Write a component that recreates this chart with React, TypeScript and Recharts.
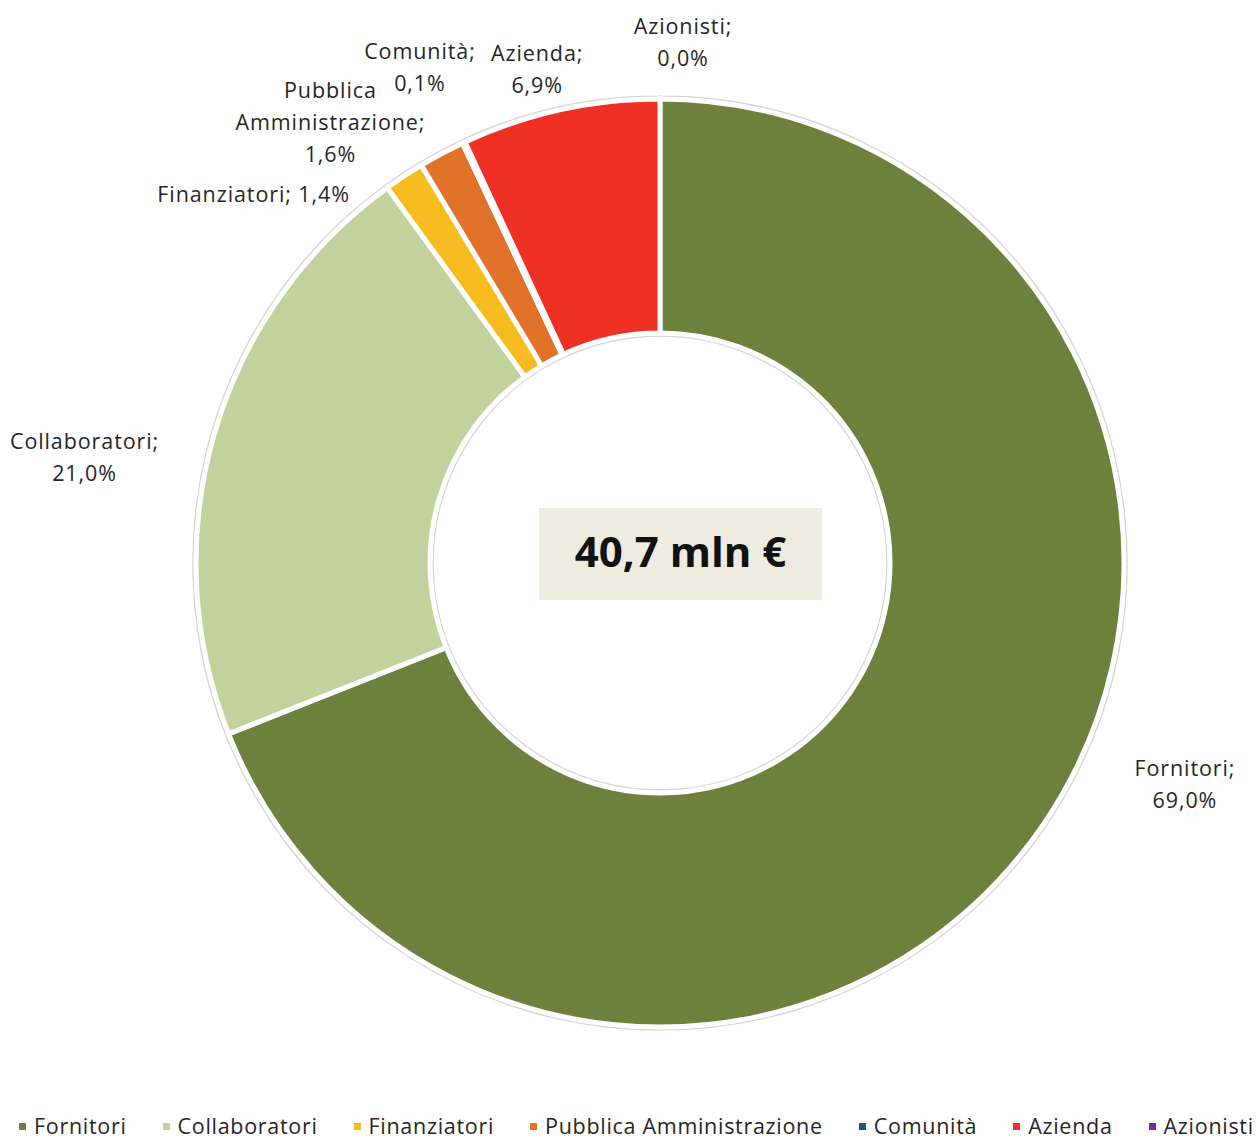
import { Legend, Pie, PieChart } from "recharts";

const categories = [
  "Fornitori",
  "Collaboratori",
  "Finanziatori",
  "Pubblica Amministrazione",
  "Comunità",
  "Azienda",
  "Azionisti"
];
const shares = [69.0, 21.0, 1.4, 1.6, 0.1, 6.9, 0.0];
const sliceColors = ["#6B813C", "#C1D29C", "#F6BC1F", "#E0722A", "#1F5C6B", "#EE3124", "#7030A0"];
const totalLabel = "40,7 mln €";

// label layout tweaks (Excel "best fit" positions), index-aligned with categories
const labelShift = [
  [118, -57],
  [-103, 30],
  [-135, 40],
  [-98, -8],
  [-32, -51],
  [-17, -15],
  [23, -30]
];
const labelMode = ["two", "two", "one", "three", "two", "two", "two"];

const data = categories.map((name, i) => ({ name, value: shares[i], fill: sliceColors[i] }));
const ringData = [{ name: "ring", value: 1 }];

const FONT = "'Open Sans', sans-serif";
const INK = "#262626";
const RAD = Math.PI / 180;

const fmt = (v: number) => v.toFixed(1).replace(".", ",") + "%";

const renderLabel = (props: any) => {
  const { cx, cy, midAngle, outerRadius, index, name, value } = props;
  const r = outerRadius + 28;
  const x = cx + r * Math.cos(-midAngle * RAD) + labelShift[index][0];
  const y = cy + r * Math.sin(-midAngle * RAD) + labelShift[index][1];
  let lines: string[];
  if (labelMode[index] === "one") lines = [`${name}; ${fmt(value)}`];
  else if (labelMode[index] === "three") {
    const parts = name.split(" ");
    lines = [parts[0], parts.slice(1).join(" ") + ";", fmt(value)];
  } else lines = [`${name};`, fmt(value)];
  const lh = 32;
  const top = y - ((lines.length - 1) * lh) / 2;
  return (
    <text
      x={x}
      y={top}
      textAnchor="middle"
      dominantBaseline="central"
      fill={INK}
      fontSize={21.5}
      letterSpacing={0.9}
      fontFamily={FONT}
    >
      {lines.map((l, i) => (
        <tspan key={i} x={x} dy={i === 0 ? 0 : lh}>
          {l}
        </tspan>
      ))}
    </text>
  );
};

const renderLegend = (props: any) => {
  const items = (props.payload || [])
    .filter((p: any) => p.type !== "none")
    .sort((a: any, b: any) => categories.indexOf(a.value) - categories.indexOf(b.value));
  return (
    <div
      style={{
        display: "flex",
        alignItems: "center",
        paddingLeft: 19,
        whiteSpace: "nowrap",
        fontFamily: FONT,
        fontSize: 21.5,
        lineHeight: "22px",
        letterSpacing: 0.7,
        color: INK
      }}
    >
      {items.map((p: any, i: number) => (
        <div key={i} style={{ display: "flex", alignItems: "center", marginRight: 36 }}>
          <span style={{ width: 7, height: 7, background: p.color, marginRight: 8, display: "inline-block" }} />
          <span>{p.value}</span>
        </div>
      ))}
    </div>
  );
};

export default function App() {
  return (
    <div style={{ position: "absolute", left: 0, top: 0, width: 1260, height: 1138, background: "#fff" }}>
      <PieChart width={1260} height={1138} margin={{ top: 0, right: 0, bottom: 0, left: 0 }}>
        <Pie
          data={ringData}
          dataKey="value"
          cx={660}
          cy={563}
          innerRadius={227}
          outerRadius={467}
          startAngle={90}
          endAngle={-270}
          fill="#ffffff"
          stroke="#d4d4d4"
          strokeWidth={1.5}
          legendType="none"
          isAnimationActive={false}
        />
        <Pie
          data={data}
          dataKey="value"
          nameKey="name"
          cx={660}
          cy={563}
          innerRadius={230}
          outerRadius={464}
          startAngle={90}
          endAngle={-270}
          stroke="#ffffff"
          strokeWidth={5}
          label={renderLabel}
          labelLine={false}
          isAnimationActive={false}
        />
        <Legend
          content={renderLegend}
          wrapperStyle={{ position: "absolute", left: 0, top: 1115, width: 1260, height: 24 }}
        />
      </PieChart>
      <div
        style={{
          position: "absolute",
          left: 539,
          top: 508,
          width: 283,
          height: 92,
          boxSizing: "border-box",
          paddingBottom: 8,
          background: "#EEECE1",
          display: "flex",
          alignItems: "center",
          justifyContent: "center",
          fontFamily: FONT,
          fontWeight: 700,
          fontSize: 42,
          color: "#111"
        }}
      >
        {totalLabel}
      </div>
    </div>
  );
}
